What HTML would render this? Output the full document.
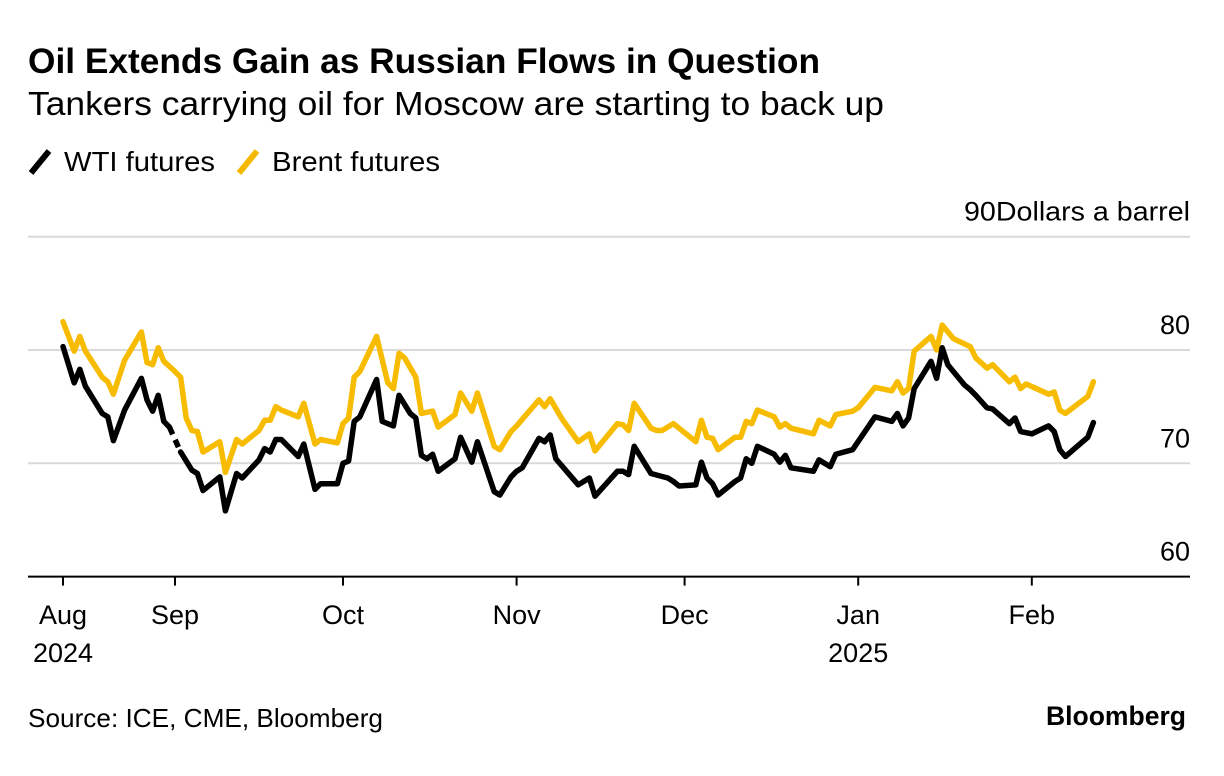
<!DOCTYPE html>
<html><head><meta charset="utf-8">
<style>
body{margin:0;background:#fff;font-family:"Liberation Sans",sans-serif;}
svg{display:block}
</style></head>
<body>
<svg id="chart" width="1224" height="776" viewBox="0 0 1224 776">
<text x="28" y="73" font-size="35" font-weight="bold" fill="#000" textLength="792" lengthAdjust="spacingAndGlyphs">Oil Extends Gain as Russian Flows in Question</text>
<text x="28" y="115" font-size="33" fill="#000" textLength="856" lengthAdjust="spacingAndGlyphs">Tankers carrying oil for Moscow are starting to back up</text>
<g>
<g><line x1="31" y1="173" x2="49" y2="151" stroke="#000" stroke-width="6"/><text x="64" y="171" font-size="28" textLength="151" lengthAdjust="spacingAndGlyphs">WTI futures</text></g>
<g><line x1="239" y1="173" x2="257" y2="151" stroke="#f5b800" stroke-width="6"/><text x="272" y="171" font-size="28" textLength="168" lengthAdjust="spacingAndGlyphs">Brent futures</text></g>
</g>
<g id="grid"></g>
<g id="series"></g>
<g id="xaxis"></g>
<text x="28" y="727" font-size="26" fill="#000" textLength="355" lengthAdjust="spacingAndGlyphs">Source: ICE, CME, Bloomberg</text>
<text x="1186" y="725" font-size="27" font-weight="bold" text-anchor="end" fill="#000" textLength="140" lengthAdjust="spacingAndGlyphs">Bloomberg</text>
</svg>
<script>
const yTicks=[60,70,80,90];
const monthLabels=["Aug","Sep","Oct","Nov","Dec","Jan","Feb"];
const yearLabels=["2024","","","","","2025",""];
const monthTickDays=[0,20,50,81,111,142,173];
const brentDays=[0,2,3,4,7,8,9,11,14,15,16,17,18,20,21,22,23,24,25,28,29,31,32,35,36,37,38,39,42,43,45,46,49,50,51,52,53,56,58,59,60,61,63,64,66,67,70,71,73,74,77,78,80,81,85,86,87,89,92,94,95,99,100,101,102,105,106,107,109,113,114,115,116,117,120,121,122,123,124,127,128,129,130,134,135,137,138,141,142,145,148,149,150,151,152,155,156,157,159,162,163,165,166,169,170,171,172,176,177,178,179,183,184];
const brentValues=[82.5,79.9,81.2,79.9,77.6,77.2,76.1,79.1,81.6,78.9,78.7,80.2,79.0,78.1,77.6,74.0,72.9,72.8,71.0,71.9,69.2,72.1,71.7,72.9,73.8,73.8,75.0,74.7,74.1,75.3,71.7,72.1,71.8,73.5,74.0,77.6,78.1,81.2,77.1,76.6,79.7,79.3,77.6,74.4,74.6,73.2,74.3,76.2,74.6,76.2,71.5,71.2,72.8,73.3,75.6,75.0,75.7,74.0,71.9,72.6,71.1,73.5,73.4,72.9,75.3,73.1,72.9,72.9,73.5,71.9,73.8,72.3,72.2,71.2,72.3,72.3,73.7,73.5,74.7,74.1,73.2,73.5,73.1,72.6,73.8,73.3,74.3,74.6,74.9,76.7,76.4,77.2,76.2,76.6,79.9,81.2,80.0,82.2,81.0,80.3,79.3,78.4,78.7,77.2,77.6,76.6,77.0,76.1,76.3,74.7,74.4,75.9,77.2];
const wtiDays=[0,2,3,4,7,8,9,11,14,15,16,17,18,19,20,21,23,24,25,28,29,31,32,35,36,37,38,39,42,43,45,46,49,50,51,52,53,56,57,59,60,62,63,64,65,66,67,70,71,73,74,77,78,80,81,82,85,86,87,88,92,94,95,99,100,101,102,105,108,109,109.5,110,113,114,115,116,117,120,121,122,123,124,127,128,129,130,134,135,137,138,141,145,148,149,150,151,152,155,156,157,158,160,160.5,161,162,162.5,163,165,166,169,170,171,173,176,177,178,179,183,184];
const wtiValues=[80.3,77.1,78.3,76.8,74.4,74.1,72.0,74.7,77.5,75.6,74.6,76.0,73.7,73.2,null,71.0,69.4,69.1,67.6,68.8,65.8,69.1,68.7,70.3,71.3,71.0,72.1,72.1,70.6,71.7,67.7,68.2,68.2,70.0,70.2,73.7,74.1,77.4,73.7,73.3,76.0,74.4,74.0,70.7,70.4,70.8,69.3,70.4,72.3,70.1,71.9,67.5,67.2,68.8,69.3,69.6,72.2,71.9,72.5,70.4,68.1,68.7,67.1,69.3,69.3,69.0,71.5,69.1,68.7,68.4,null,68.0,68.1,70.1,68.7,68.2,67.2,68.4,68.7,70.4,70.0,71.5,70.8,70.1,70.7,69.6,69.3,70.3,69.7,70.8,71.2,74.1,73.7,74.4,73.3,74.0,76.6,79.0,77.5,80.2,78.7,77.5,null,76.9,76.5,null,76.0,74.9,74.8,73.5,74.0,72.8,72.6,73.3,72.8,71.2,70.6,72.3,73.6];

const NS="http://www.w3.org/2000/svg";
const X0=63, PX_PER_DAY=5.6, Y_BASE=463.3, PX_PER_USD=11.33;
function xScale(d){return X0+d*PX_PER_DAY;}
function yScale(v){return Y_BASE-(v-70)*PX_PER_USD;}
function mk(tag,attrs,parent){const e=document.createElementNS(NS,tag);for(const k in attrs)e.setAttribute(k,attrs[k]);parent.appendChild(e);return e;}

const grid=document.getElementById('grid');
yTicks.forEach(t=>{
  const y=yScale(t);
  if(t>60){
    const l=mk('line',{x1:28,x2:1190,y1:y,y2:y,stroke:'#d9d9d9','stroke-width':2},grid);
    
    
  }
  const lab=mk('text',{x:1190,y:y-16,'font-size':27,'text-anchor':'end',fill:'#000'},grid);
  lab.textContent = t===90 ? '90Dollars a barrel' : String(t);
  if(t===90){lab.setAttribute('textLength','226');lab.setAttribute('lengthAdjust','spacingAndGlyphs');}
  
  
});

const xa=document.getElementById('xaxis');
const base=mk('line',{x1:28,x2:1190,y1:yScale(60),y2:yScale(60),stroke:'#000','stroke-width':2},xa);


monthTickDays.forEach((d,i)=>{
  const x=xScale(d);
  const tk=mk('line',{x1:x,x2:x,y1:yScale(60),y2:yScale(60)+9,stroke:'#000','stroke-width':2},xa);
  
  
  const t=mk('text',{x:x,y:624,'font-size':27,'text-anchor':'middle',fill:'#000'},xa);
  t.textContent=monthLabels[i];
  
  
  if(yearLabels[i]){
    const yt=mk('text',{x:x,y:662,'font-size':27,'text-anchor':'middle',fill:'#000'},xa);
    yt.textContent=yearLabels[i];
    
    
  }
});

const sg=document.getElementById('series');
function drawSeries(days,vals,color,name){
  let segs=[],cur=[],dashes=[],prev=null,gap=false;
  for(let i=0;i<days.length;i++){
    if(vals[i]===null){gap=true;continue;}
    const p=[xScale(days[i]),yScale(vals[i])];
    if(gap&&prev){if(cur.length)segs.push(cur);cur=[];dashes.push([prev,p]);}
    cur.push(p);prev=p;gap=false;
  }
  if(cur.length)segs.push(cur);
  segs.forEach(s=>{
    const pl=mk('polyline',{points:s.map(p=>p.join(',')).join(' '),fill:'none',stroke:color,'stroke-width':5.5,'stroke-linejoin':'round','stroke-linecap':'round'},sg);
    
    
  });
  dashes.forEach(d=>{
    const dl=mk('line',{x1:d[0][0],y1:d[0][1],x2:d[1][0],y2:d[1][1],stroke:color,'stroke-width':5.5,'stroke-dasharray':'8 6'},sg);
    
    
  });
}
drawSeries(brentDays,brentValues,'#f7bc00','brent');
drawSeries(wtiDays,wtiValues,'#000','wti');
</script>
</body></html>
